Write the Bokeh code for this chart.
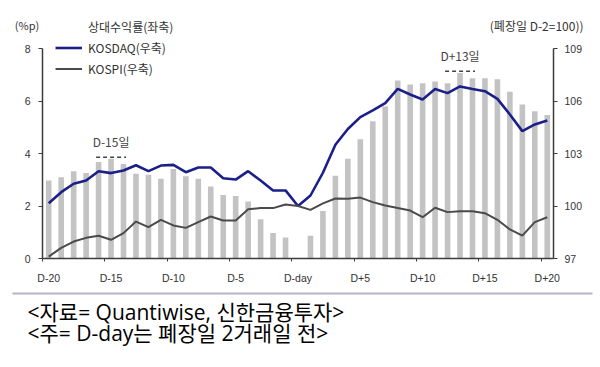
import numpy as np
from bokeh.plotting import figure
from bokeh.models import (Range1d, LinearAxis, FixedTicker, Legend, LegendItem,
                          Label, BoxAnnotation, ColumnDataSource)
from bokeh.core.properties import value
from bokeh.embed import file_html
from bokeh.resources import INLINE

# ---- data ----
tick_pos = [0, 5, 10, 15, 20, 25, 30, 35, 40]
tick_labels = ["D-20", "D-15", "D-10", "D-5", "D-day", "D+5", "D+10", "D+15", "D+20"]

rel_return = [2.97, 3.10, 3.32, 3.26, 3.68, 3.80, 3.60, 3.23, 3.19, 3.04,
              3.41, 3.13, 3.04, 2.74, 2.42, 2.38, 2.17, 1.50, 0.97, 0.80,
              0.00, 0.87, 1.81, 3.15, 3.80, 4.54, 5.23, 5.79, 6.78, 6.63,
              6.68, 6.74, 6.68, 7.07, 6.87, 6.87, 6.83, 6.35, 5.87, 5.61, 5.47]

kosdaq = [100.16, 100.79, 101.27, 101.46, 101.99, 101.88, 102.03, 102.33, 101.99, 102.31,
          102.35, 101.93, 102.20, 102.20, 101.59, 101.51, 101.99, 101.46, 100.89, 100.89,
          100.00, 100.60, 101.90, 103.50, 104.40, 105.08, 105.46, 105.88, 106.69, 106.37,
          106.09, 106.68, 106.45, 106.83, 106.69, 106.56, 106.12, 105.23, 104.28, 104.66, 104.89]

kospi = [97.11, 97.61, 97.97, 98.18, 98.30, 98.07, 98.45, 99.11, 98.79, 99.21,
         98.89, 98.75, 99.08, 99.40, 99.17, 99.17, 99.82, 99.88, 99.88, 100.09,
         100.00, 99.78, 100.15, 100.43, 100.42, 100.48, 100.22, 100.03, 99.88, 99.74,
         99.36, 99.90, 99.65, 99.70, 99.70, 99.59, 99.21, 98.66, 98.31, 99.08, 99.36]

annot_idx = [5, 33]
annot_text = ["D-15일", "D+13일"]

left_ticks = [0, 2, 4, 6, 8]
right_ticks = [97, 100, 103, 106, 109]

# ---- styles / geometry ----
BAR = "#c3c3c3"
BLUE = "#1b1f8a"
GRAY = "#4a4a4a"
AX = "#3c3c3c"
TXT = "#333333"
KFONT = "Noto Sans CJK KR"
FFONT = "Open Sans, Noto Sans CJK KR"
W, H = 600, 367
PL, PR, PT, PB = 42, 553, 48, 258          # plot-area pixel edges
XMIN, XMAX = -0.5, 40.5
YMIN, YMAX = 0, 8
RMIN, RMAX = 97, 109

xpx = (PR - PL) / (XMAX - XMIN)
ypx = (PB - PT) / (YMAX - YMIN)
rpx = (PB - PT) / (RMAX - RMIN)
x_range = Range1d(XMIN - PL / xpx, XMAX + (W - PR) / xpx)
y_range = Range1d(YMIN - (H - PB) / ypx, YMAX + PT / ypx)
r_range = Range1d(RMIN - (H - PB) / rpx, RMAX + PT / rpx)

x = np.arange(len(rel_return))
src = ColumnDataSource(dict(x=x, rel=rel_return, kosdaq=kosdaq, kospi=kospi))

p = figure(width=W, height=H, output_backend="svg", toolbar_location=None,
           x_range=x_range, y_range=y_range, x_axis_type=None, y_axis_type=None,
           min_border_left=0, min_border_right=0, min_border_top=0, min_border_bottom=0)
p.extra_y_ranges = {"right": r_range}
p.outline_line_color = None
p.background_fill_color = "white"
p.border_fill_color = "white"

bars = p.vbar(x="x", top="rel", width=0.45, source=src, fill_color=BAR, line_color=None)
r_kosdaq = p.line("x", "kosdaq", source=src, y_range_name="right", line_color=BLUE, line_width=2.6)
r_kospi = p.line("x", "kospi", source=src, y_range_name="right", line_color=GRAY, line_width=2)

# annotations (dashed marker + text above the peak bars)
ax_ = [float(i) for i in annot_idx]
ay = [rel_return[i] + 0.06 for i in annot_idx]
p.segment(x0=[a - 1.2 for a in ax_], x1=[a + 1.2 for a in ax_], y0=ay, y1=ay,
          line_color="#444444", line_width=1.5, line_dash="4 3")
p.text(x=ax_, y=ay, text=annot_text, y_offset=-16, text_align="center", text_baseline="middle",
       text_font=value(KFONT), text_font_size="12px", text_color="#444444")


def style_axis(a):
    a.axis_line_color = AX
    a.axis_line_width = 1.5
    a.major_label_text_font = "Liberation Sans"
    a.major_label_text_font_size = "10.5px"
    a.major_label_text_color = TXT


# bottom axis
xa = LinearAxis(fixed_location=YMIN, bounds=(XMIN, XMAX),
                ticker=FixedTicker(ticks=tick_pos, minor_ticks=[t - 0.5 for t in tick_pos]))
xa.major_label_overrides = {t: l for t, l in zip(tick_pos, tick_labels)}
xa.major_tick_line_color = None
xa.minor_tick_line_color = AX
xa.minor_tick_out = 3
xa.minor_tick_in = 0
xa.major_label_standoff = 7
style_axis(xa)
p.add_layout(xa, "below")

# left axis
ya = LinearAxis(fixed_location=XMIN, bounds=(YMIN, YMAX), ticker=FixedTicker(ticks=left_ticks))
ya.minor_tick_line_color = None
ya.major_tick_out = 4
ya.major_tick_in = 0
ya.major_tick_line_color = AX
ya.major_label_standoff = 8
style_axis(ya)
p.add_layout(ya, "left")

# right axis
ra = LinearAxis(y_range_name="right", fixed_location=XMAX, bounds=(RMIN, RMAX),
                ticker=FixedTicker(ticks=right_ticks))
ra.minor_tick_line_color = None
ra.major_tick_out = 4
ra.major_tick_in = 0
ra.major_tick_line_color = AX
ra.major_label_standoff = 7
style_axis(ra)
p.add_layout(ra, "right")

# legend (proxy line for the bar series swatch)
proxy = p.line(x=[], y=[], line_color=BAR, line_width=5)
legend = Legend(items=[LegendItem(label="상대수익률(좌축)", renderers=[proxy]),
                       LegendItem(label="KOSDAQ(우축)", renderers=[r_kosdaq]),
                       LegendItem(label="KOSPI(우축)", renderers=[r_kospi])],
                location=(55, H - 79), orientation="vertical",
                glyph_width=27, glyph_height=21, label_height=21, spacing=0,
                padding=0, margin=0, border_line_color=None, background_fill_alpha=0,
                label_standoff=6, label_text_font=KFONT, label_text_font_size="12px",
                label_text_color=TXT)
p.add_layout(legend)

# unit labels
p.add_layout(Label(x=26.5, y=H - 24, x_units="screen", y_units="screen", text="(%p)",
                   text_align="center", text_baseline="middle", text_font=KFONT,
                   text_font_size="11px", text_color=TXT))
p.add_layout(Label(x=583, y=H - 25, x_units="screen", y_units="screen", text="(폐장일 D-2=100))",
                   text_align="right", text_baseline="middle", text_font=KFONT,
                   text_font_size="12px", text_color=TXT))

# separator and footer
p.add_layout(BoxAnnotation(left=12, right=592, bottom=H - 294, top=H - 292,
                           left_units="screen", right_units="screen",
                           bottom_units="screen", top_units="screen",
                           fill_color="#b4b4c4", fill_alpha=1, line_color=None))
p.add_layout(Label(x=27, y=H - 311, x_units="screen", y_units="screen",
                   text="<자료= Quantiwise, 신한금융투자>", text_baseline="middle",
                   text_font=FFONT, text_font_size="21px", text_color="black"))
p.add_layout(Label(x=27, y=H - 332, x_units="screen", y_units="screen",
                   text="<주= D-day는 폐장일 2거래일 전>", text_baseline="middle",
                   text_font=FFONT, text_font_size="21px", text_color="black"))

open("out.html", "w").write(file_html(p, INLINE))
